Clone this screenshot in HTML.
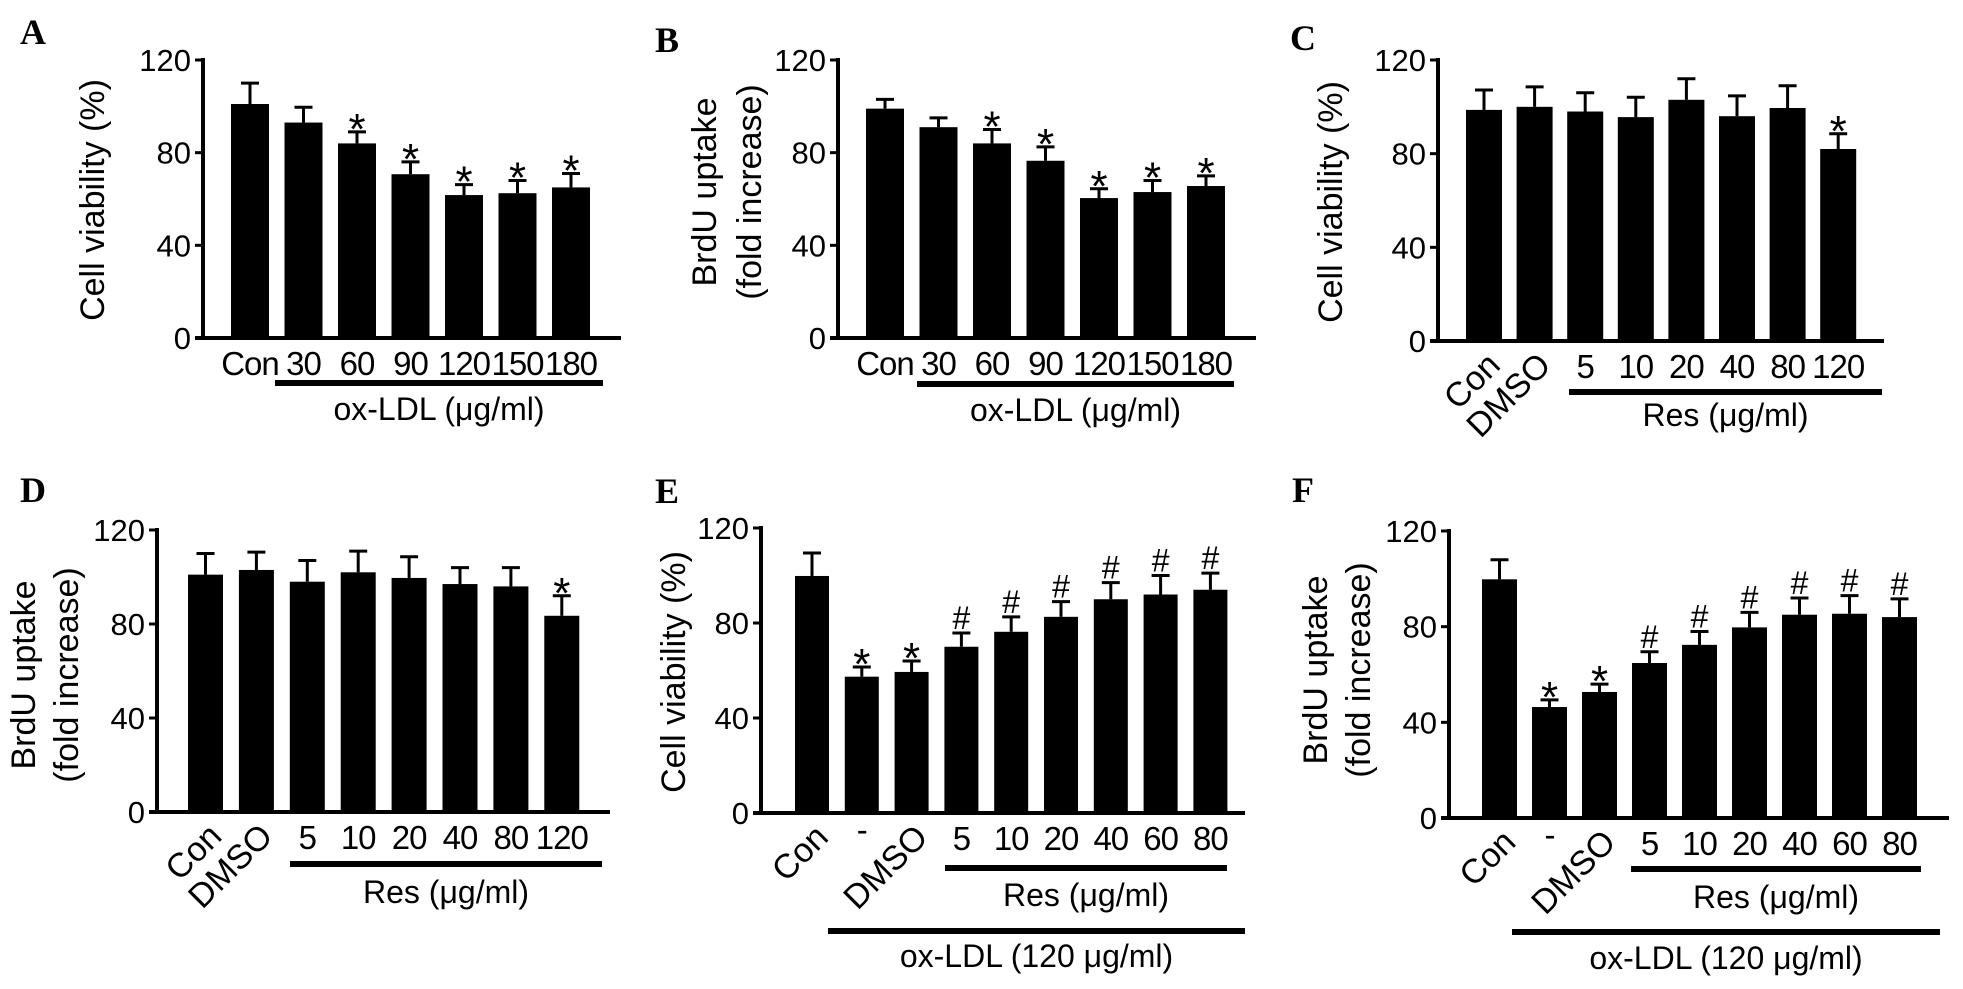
<!DOCTYPE html>
<html><head><meta charset="utf-8"><style>
html,body{margin:0;padding:0;background:#fff;}
svg{display:block;font-family:"Liberation Sans",Arial,sans-serif;}
</style></head><body>
<svg id="fig" width="1963" height="989" viewBox="0 0 1963 989" xmlns="http://www.w3.org/2000/svg"></svg>
<script>
// ---- data ----
const catsA = ["Con","30","60","90","120","150","180"];
const valsA = [101,93,84,70.7,61.7,62.5,65];
const errsA = [9,6.6,5,5.3,4.5,5.5,6];
const markA = ["","","*","*","*","*","*"];

const catsB = ["Con","30","60","90","120","150","180"];
const valsB = [99,91,84,76.5,60.4,63,65.6];
const errsB = [4,4,6,6,4,5,4.4];
const markB = ["","","*","*","*","*","*"];

const catsC = ["Con","DMSO","5","10","20","40","80","120"];
const valsC = [98.7,100,98,95.6,103,96,99.5,82];
const errsC = [8.5,8.5,8,8.5,9,8.7,9.5,6.5];
const markC = ["","","","","","","","*"];

const catsD = ["Con","DMSO","5","10","20","40","80","120"];
const valsD = [101,103,98,102,99.6,97,96,83.5];
const errsD = [9,7.6,9,9,9,7,8,8.5];
const markD = ["","","","","","","","*"];

const catsE = ["Con","-","DMSO","5","10","20","40","60","80"];
const valsE = [99.8,57.4,59.4,70,76.3,82.6,90,92,94];
const errsE = [9.7,4.1,4.6,5.8,6.3,6.4,7,8,7];
const markE = ["","*","*","#","#","#","#","#","#"];

const catsF = ["Con","-","DMSO","5","10","20","40","60","80"];
const valsF = [99.8,46.4,52.7,64.8,72.4,79.7,85,85.4,84];
const errsF = [8.2,3,3.3,4.7,5.6,6.3,7,7.6,7.6];
const markF = ["","*","*","#","#","#","#","#","#"];

const yTicks = [0,40,80,120];

// ---- layout (geometry only) ----
const NS="http://www.w3.org/2000/svg";
const svg=document.getElementById('fig');
function el(tag,attrs,parent,txt){const e=document.createElementNS(NS,tag);for(const k in attrs)e.setAttribute(k,attrs[k]);if(txt!==undefined)e.textContent=txt;(parent||svg).appendChild(e);return e;}

const panels=[
 {id:"a",letter:"A",lx:20,ly:44,ax:203,y0:338,y120:60,x0:231,pitch:53.5,bw:38,axEnd:621,cats:catsA,vals:valsA,errs:errsA,marks:markA,
  title:["Cell viability (%)"],tx:[93],ty:200,rot:0,lines:[{x1:275,x2:603,y:383,label:"ox-LDL (\u03bcg/ml)",ly:420}]},
 {id:"b",letter:"B",lx:655,ly:52,ax:838,y0:338,y120:60,x0:866,pitch:53.5,bw:38,axEnd:1256,cats:catsB,vals:valsB,errs:errsB,marks:markB,
  title:["BrdU uptake","(fold increase)"],tx:[705,750],ty:192,rot:0,lines:[{x1:917,x2:1234,y:384,label:"ox-LDL (\u03bcg/ml)",ly:421}]},
 {id:"c",letter:"C",lx:1290,ly:50,ax:1438,y0:341,y120:60,x0:1466,pitch:50.6,bw:36,axEnd:1884,cats:catsC,vals:valsC,errs:errsC,marks:markC,
  title:["Cell viability (%)"],tx:[1331],ty:202,rot:2,lines:[{x1:1569,x2:1882,y:392,label:"Res (\u03bcg/ml)",ly:426}]},
 {id:"d",letter:"D",lx:20,ly:502,ax:157,y0:812,y120:530,x0:188,pitch:50.9,bw:35,axEnd:610,cats:catsD,vals:valsD,errs:errsD,marks:markD,
  title:["BrdU uptake","(fold increase)"],tx:[24,67],ty:675,rot:2,lines:[{x1:290,x2:602,y:864,label:"Res (\u03bcg/ml)",ly:903}]},
 {id:"e",letter:"E",lx:655,ly:503,ax:761,y0:813,y120:528,x0:795,pitch:49.8,bw:34,axEnd:1245,cats:catsE,vals:valsE,errs:errsE,marks:markE,
  title:["Cell viability (%)"],tx:[674],ty:672,rot:3,lines:[{x1:945,x2:1227,y:868,label:"Res (\u03bcg/ml)",ly:906},{x1:828,x2:1245,y:931,label:"ox-LDL (120 \u03bcg/ml)",ly:967}]},
 {id:"f",letter:"F",lx:1292,ly:502,ax:1449,y0:818,y120:531,x0:1482,pitch:50,bw:35,axEnd:1949,cats:catsF,vals:valsF,errs:errsF,marks:markF,
  title:["BrdU uptake","(fold increase)"],tx:[1316,1359],ty:670,rot:3,lines:[{x1:1631,x2:1921,y:869,label:"Res (\u03bcg/ml)",ly:908},{x1:1512,x2:1940,y:932,label:"ox-LDL (120 \u03bcg/ml)",ly:969}]}
];

panels.forEach(p=>{
  const g=el('g',{});
  
  
  const yS=v=>p.y0-(v/120)*(p.y0-p.y120);
  const xS=i=>p.x0+i*p.pitch;
  const lt=el('text',{x:p.lx,y:p.ly,'font-family':'"Liberation Serif",serif','font-weight':'bold','font-size':36},g,p.letter);
  
  
  const ya=el('line',{x1:p.ax,x2:p.ax,y1:p.y120-2,y2:p.y0+2,stroke:'#000','stroke-width':4},g);
  
  
  const xa=el('line',{x1:p.ax-8,x2:p.axEnd,y1:p.y0,y2:p.y0,stroke:'#000','stroke-width':4},g);
  
  
  yTicks.forEach(t=>{
    el('line',{x1:p.ax-8,x2:p.ax,y1:yS(t),y2:yS(t),stroke:'#000','stroke-width':3},g);
    const tl=el('text',{x:p.ax-12,y:yS(t)+11,'text-anchor':'end','font-size':31},g,String(t));
    
    
  });
  p.title.forEach((t,k)=>{
    const tt=el('text',{x:0,y:0,'text-anchor':'middle','dominant-baseline':'central','font-size':34,transform:`translate(${p.tx[k]},${p.ty}) rotate(-90)`},g,t);
    
    
  });
  p.cats.forEach((c,i)=>{
    const x=xS(i),top=yS(p.vals[i]),et=yS(p.vals[i]+p.errs[i]),cx=x+p.bw/2;
    el('line',{x1:cx,x2:cx,y1:top,y2:et,stroke:'#000','stroke-width':3},g);
    el('line',{x1:cx-9,x2:cx+9,y1:et,y2:et,stroke:'#000','stroke-width':3},g);
    const b=el('rect',{x:x,y:top,width:p.bw,height:p.y0-top,fill:'#000'},g);
    
    
    if(p.marks[i]){
      const star=p.marks[i]=='*';
      const m=el('text',{x:cx,y:et-(star?-12:4),'text-anchor':'middle','font-size':star?44:32},g,p.marks[i]);
      
      
    }
    let lab;
    if(p.rot && i<p.rot && c!=="-"){
      lab=el('text',{x:0,y:0,'text-anchor':'end','font-size':34,transform:`translate(${cx+18},${p.y0+26}) rotate(-45)`},g,c);
    } else {
      lab=el('text',{x:cx,y:p.y0+(c==="-"?28:37),'text-anchor':'middle','font-size':33,'letter-spacing':-1},g,c);
    }
    
    
  });
  p.lines.forEach(l=>{
    const ln=el('line',{x1:l.x1,x2:l.x2,y1:l.y,y2:l.y,stroke:'#000','stroke-width':6},g);
    
    
    const lt2=el('text',{x:(l.x1+l.x2)/2,y:l.ly,'text-anchor':'middle','font-size':32},g,l.label);
    
    
  });
});
</script>
</body></html>
